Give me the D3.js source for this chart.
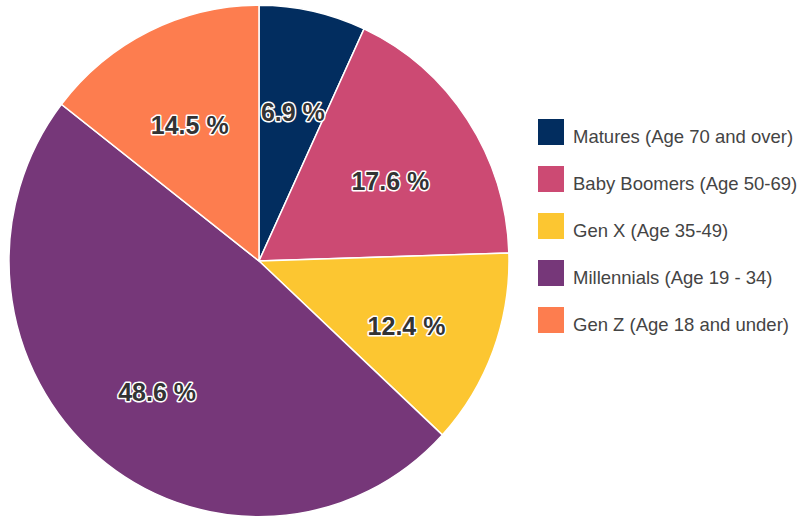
<!DOCTYPE html>
<html><head><meta charset="utf-8">
<script src="https://cdn.jsdelivr.net/npm/d3@7"></script>
<style>body{margin:0;background:#fff}svg{display:block}</style>
</head><body><svg id="c" width="797" height="518"></svg>
<script>
const categories = ["Matures (Age 70 and over)","Baby Boomers (Age 50-69)","Gen X (Age 35-49)","Millennials (Age 19 - 34)","Gen Z (Age 18 and under)"];
const values = [6.9, 17.6, 12.4, 48.6, 14.5];
const colors = ["#022d5f","#cc4a73","#fcc631","#763779","#fd7d4f"];

const svg = d3.select("#c");
const cx = 259, cy = 261, R = 250, sy = 1.023;
const pie = d3.pie().sort(null).value(d => d)(values);
const arc = d3.arc().innerRadius(0).outerRadius(R);
const labelArc = d3.arc().innerRadius(R*0.63).outerRadius(R*0.63);
const g = svg.append("g").attr("transform", `translate(${cx},${cy})`);
g.append("g").attr("transform", `scale(1,${sy})`)
  .selectAll("path").data(pie).join("path")
  .attr("d", arc).attr("fill", (d,i) => colors[i])
  .attr("stroke", "#fff").attr("stroke-width", 1.5);
const lab = g.selectAll("g.l").data(pie).join("g").attr("class","l")
  .attr("transform", d => { const c = labelArc.centroid(d); return `translate(${c[0]},${c[1]*sy})`; });
lab.append("text").text(d => d.data.toFixed(1) + " %")
  .attr("text-anchor","middle").attr("dy","0.7em")
  .attr("font-family","Liberation Sans, Arial, sans-serif").attr("font-weight","bold").attr("font-size",25)
  .attr("fill","#333").attr("stroke","#fff").attr("stroke-width",3).attr("stroke-linejoin","round")
  .attr("paint-order","stroke");

const leg = svg.append("g").attr("transform","translate(538,119)");
const row = leg.selectAll("g").data(categories).join("g").attr("transform",(d,i)=>`translate(0,${i*47})`);
row.append("rect").attr("width",26).attr("height",26).attr("fill",(d,i)=>colors[i]);
row.append("text").attr("x",35).attr("y",24).text(d=>d)
  .attr("font-family","Liberation Sans, Arial, sans-serif").attr("font-size",18.5).attr("fill","#444");
</script></body></html>
